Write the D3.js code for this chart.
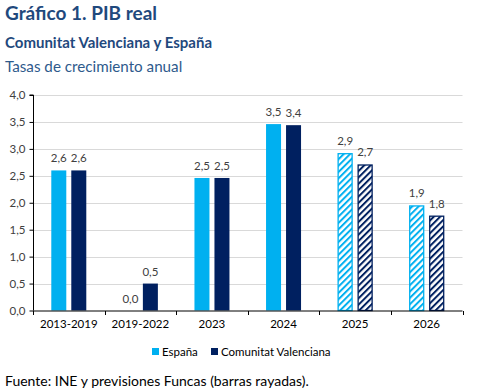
<!DOCTYPE html>
<html><head><meta charset="utf-8">
<script src="https://cdn.jsdelivr.net/npm/d3@7"></script>
<style>body{margin:0;background:#fff;} text{font-family:Lato, "Open Sans", sans-serif;}</style>
</head><body>
<svg id="c" width="481" height="392"></svg>
<script>
const categories = ["2013-2019","2019-2022","2023","2024","2025","2026"];
const espana = [2.6, 0.0, 2.46, 3.46, 2.92, 1.95];
const cv = [2.6, 0.5, 2.46, 3.44, 2.71, 1.76];
const forecast = [false,false,false,false,true,true];
const yTicks = [0,0.5,1,1.5,2,2.5,3,3.5,4];
const seriesNames = ["España","Comunitat Valenciana"];
const colors = ["#00B0F0","#002060"];

const svg = d3.select("#c");
const defs = svg.append("defs");
colors.forEach((c,i)=>{
  const p = defs.append("pattern").attr("id","h"+i).attr("patternUnits","userSpaceOnUse")
    .attr("width",4.5).attr("height",4.5).attr("patternTransform","rotate(45)");
  p.append("rect").attr("width",4.5).attr("height",4.5).attr("fill","#fff");
  p.append("rect").attr("x",0).attr("width",2).attr("height",4.5).attr("fill",c);
});

const x0=33, x1=462.5, yb=310.5, yt=95;
const x = d3.scaleBand().domain(categories).range([x0,x1]);
const y = d3.scaleLinear().domain([0,4]).range([yb,yt]);
const fmt = v => d3.format(".1f")(v).replace(".",",");

svg.append("g").selectAll("line").data(yTicks.slice(1)).join("line")
  .attr("x1",x0).attr("x2",x1).attr("y1",d=>Math.round(y(d))+0.5).attr("y2",d=>Math.round(y(d))+0.5)
  .attr("stroke","#d9d9d9").attr("stroke-width",1);

const bw=15, gap=5;
const data = categories.map((c,i)=>({c,i,vals:[espana[i],cv[i]]}));
data.forEach(d=>{
  const cx = x(d.c)+x.bandwidth()/2;
  d.vals.forEach((v,s)=>{
    const bx = s===0 ? cx-gap/2-bw : cx+gap/2;
    const h = yb - y(v);
    if(h>0){
      if(forecast[d.i]){
        svg.append("rect").attr("x",bx+0.5).attr("y",y(v)+0.5).attr("width",bw-1).attr("height",h-0.5)
          .attr("fill",`url(#h${s})`).attr("stroke",colors[s]).attr("stroke-width",1.3);
      } else {
        svg.append("rect").attr("x",bx).attr("y",y(v)).attr("width",bw).attr("height",h).attr("fill",colors[s]);
      }
    }
    svg.append("text").attr("x",bx+bw/2).attr("y",y(v)-8).attr("text-anchor","middle")
      .attr("font-size",11.5).attr("fill","#404040").text(fmt(v));
  });
});

// y axis
const ya = svg.append("g").attr("transform",`translate(${x0+0.5},0)`)
  .call(d3.axisLeft(y).tickValues(yTicks).tickSize(4).tickFormat(fmt));
ya.select(".domain").attr("stroke","#000").attr("d",`M-4,${yt}H0V${yb}`);
ya.selectAll(".tick line").attr("stroke","#000");
ya.selectAll(".tick text").attr("font-size",11.5).attr("fill","#404040").attr("x",-8)
  .style("font-family","Lato, sans-serif");
// x axis
const xa = svg.append("g").attr("transform",`translate(0,${yb+0.5})`);
xa.append("line").attr("x1",x0).attr("x2",x1).attr("stroke","#000");
xa.selectAll("line.t").data(categories.concat(["end"])).join("line").attr("class","t")
  .attr("x1",(d,i)=>Math.round(x0+i*x.bandwidth())+0.5).attr("x2",(d,i)=>Math.round(x0+i*x.bandwidth())+0.5)
  .attr("y1",0).attr("y2",4).attr("stroke","#000");
xa.selectAll("text").data(categories).join("text")
  .attr("x",d=>x(d)+x.bandwidth()/2).attr("y",17).attr("text-anchor","middle")
  .attr("font-size",11.5).attr("fill","#000").text(d=>d);

// legend
const lg = svg.append("g");
const lx=[152,211];
seriesNames.forEach((n,i)=>{
  lg.append("rect").attr("x",lx[i]).attr("y",348).attr("width",7).attr("height",7).attr("fill",colors[i]);
  lg.append("text").attr("x",lx[i]+10).attr("y",355.5).attr("font-size",11.5).attr("fill","#000").text(n);
});

// titles
svg.append("text").attr("x",5).attr("y",20).attr("font-size",19).attr("font-weight","bold").attr("fill","#1F497D").text("Gráfico 1. PIB real");
svg.append("text").attr("x",5).attr("y",48).attr("font-size",15).attr("font-weight","bold").attr("fill","#1F497D").text("Comunitat Valenciana y España");
svg.append("text").attr("x",5).attr("y",72).attr("font-size",15.2).attr("fill","#2E5A8C").text("Tasas de crecimiento anual");
svg.append("text").attr("x",5).attr("y",386).attr("font-size",14).attr("fill","#000").text("Fuente: INE y previsiones Funcas (barras rayadas).");
</script>
</body></html>
